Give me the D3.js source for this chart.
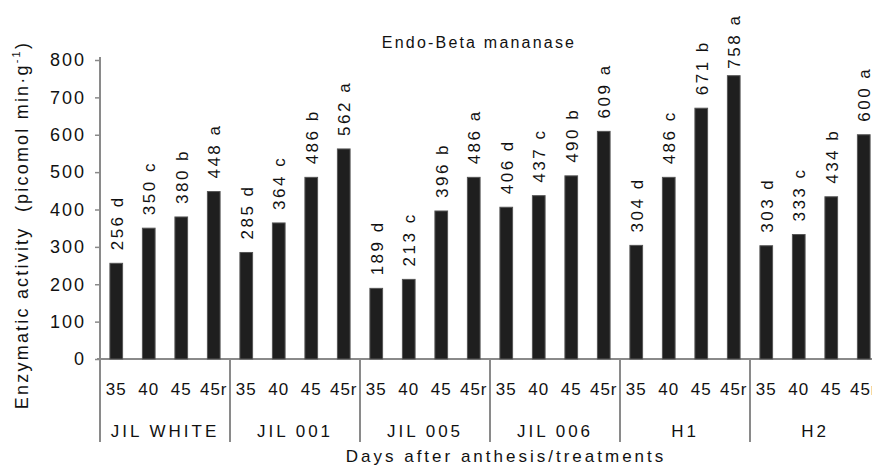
<!DOCTYPE html>
<html><head><meta charset="utf-8">
<script src="https://cdn.jsdelivr.net/npm/d3@7"></script>
<style>body{margin:0;background:#fff}svg{display:block;font-family:"Liberation Sans",Arial,sans-serif}</style>
</head><body><svg id="c" width="872" height="467"></svg>
<script>
const groups = ["JIL WHITE","JIL 001","JIL 005","JIL 006","H1","H2"];
const days = ["35","40","45","45r"];
const values = [
  [256,350,380,448],
  [285,364,486,562],
  [189,213,396,486],
  [406,437,490,609],
  [304,486,671,758],
  [303,333,434,600]
];
const letters = [
  ["d","c","b","a"],
  ["d","c","b","a"],
  ["d","c","b","a"],
  ["d","c","b","a"],
  ["d","c","b","a"],
  ["d","c","b","a"]
];
const yTicks = [0,100,200,300,400,500,600,700,800];

const svg = d3.select("#c");
const x0 = d3.scaleBand().domain(groups).range([100,880]).padding(0);
const x1 = d3.scaleBand().domain(days).range([0,x0.bandwidth()]).paddingInner(0.61).paddingOuter(0.305);
const y = d3.scaleLinear().domain([0,800]).range([359,60]);
const axisColor = "#8a8a8a";

// y axis
const ya = svg.append("g").attr("transform","translate(100,0)")
  .call(d3.axisLeft(y).tickValues(yTicks).tickSize(5).tickPadding(9).tickFormat(d3.format("d")));
ya.select(".domain").remove();
ya.selectAll(".tick line").attr("stroke",axisColor).attr("stroke-width",1.5);
ya.selectAll(".tick text").attr("font-size",18).attr("fill","#111").attr("letter-spacing",2).attr("font-family","Liberation Sans, Arial");
svg.append("line").attr("x1",100).attr("x2",100).attr("y1",57).attr("y2",442).attr("stroke",axisColor).attr("stroke-width",2);
// x axis baseline
svg.append("line").attr("x1",97).attr("x2",872).attr("y1",y(0)).attr("y2",y(0)).attr("stroke",axisColor).attr("stroke-width",2);
// group separators
groups.slice(1).forEach(g=>{
  svg.append("line").attr("x1",x0(g)).attr("x2",x0(g)).attr("y1",y(0)).attr("y2",442).attr("stroke",axisColor).attr("stroke-width",2);
});

const gsel = svg.selectAll("g.grp").data(groups).join("g").attr("class","grp")
  .attr("transform",d=>`translate(${x0(d)},0)`);
gsel.each(function(g,gi){
  const sel = d3.select(this);
  days.forEach((dd,j)=>{
    const v = values[gi][j];
    const cx = x1(dd)+x1.bandwidth()/2;
    sel.append("rect").attr("x",x1(dd)).attr("width",x1.bandwidth())
      .attr("y",y(v)).attr("height",y(0)-y(v)).attr("fill","#1f1f1f").attr("stroke","#555").attr("stroke-width",1);
    sel.append("text").attr("transform",`translate(${cx+1},${y(v)-(v>700?7:13)}) rotate(-90)`)
      .attr("dominant-baseline","central").attr("text-anchor","start")
      .attr("font-size",17).attr("letter-spacing",2.5).attr("fill","#111")
      .text(v+" "+letters[gi][j]);
    sel.append("text").attr("x",cx).attr("y",395).attr("text-anchor","middle")
      .attr("font-size",17).attr("letter-spacing",1).attr("fill","#111").text(dd);
  });
  sel.append("text").attr("x",x0.bandwidth()/2).attr("y",437).attr("text-anchor","middle")
    .attr("font-size",17).attr("letter-spacing",3).attr("fill","#111").text(g);
});

svg.append("text").attr("x",479).attr("y",48).attr("text-anchor","middle")
  .attr("font-size",16).attr("letter-spacing",2.2).attr("fill","#111").text("Endo-Beta mananase");
svg.append("text").attr("x",506).attr("y",462).attr("text-anchor","middle")
  .attr("font-size",17).attr("letter-spacing",3).attr("fill","#111").text("Days after anthesis/treatments");
const yt = svg.append("text").attr("transform","translate(22,225) rotate(-90)")
  .attr("dominant-baseline","central").attr("text-anchor","middle")
  .attr("font-size",18).attr("letter-spacing",2.2).attr("fill","#111").attr("xml:space","preserve");
yt.append("tspan").text("Enzymatic activity  (picomol min·g");
yt.append("tspan").attr("font-size",11).attr("baseline-shift","super").text("-1");
yt.append("tspan").text(")");
</script></body></html>
